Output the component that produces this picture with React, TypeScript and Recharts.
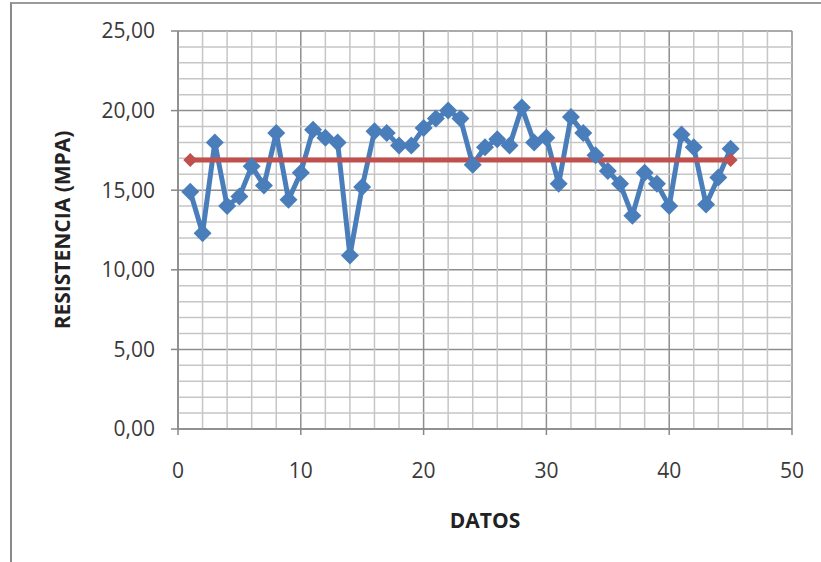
import React from "react";
import {
  LineChart, Line, XAxis, YAxis, CartesianGrid, ReferenceLine,
} from "recharts";

// valores (x = 1..45)
const datos = [
  1, 2, 3, 4, 5, 6, 7, 8, 9, 10, 11, 12, 13, 14, 15, 16, 17, 18, 19, 20, 21, 22, 23,
  24, 25, 26, 27, 28, 29, 30, 31, 32, 33, 34, 35, 36, 37, 38, 39, 40, 41, 42, 43, 44, 45,
];
const resistencia = [
  14.9, 12.3, 18.0, 14.0, 14.6, 16.5, 15.3, 18.6, 14.4, 16.1, 18.8, 18.3, 18.0, 10.9, 15.2,
  18.7, 18.6, 17.8, 17.8, 18.9, 19.5, 20.0, 19.5, 16.6, 17.7, 18.2, 17.8, 20.2, 18.0, 18.3,
  15.4, 19.6, 18.6, 17.2, 16.2, 15.4, 13.4, 16.1, 15.4, 14.0, 18.5, 17.7, 14.1, 15.8, 17.6,
];
const promedioX = [1, 45];
const promedio = 16.9;

const xTicks = [0, 10, 20, 30, 40, 50];
const yTicks = [0, 5, 10, 15, 20, 25];
const xMinor = [2, 4, 6, 8, 12, 14, 16, 18, 22, 24, 26, 28, 32, 34, 36, 38, 42, 44, 46, 48];
const yMinor = [1, 2, 3, 4, 6, 7, 8, 9, 11, 12, 13, 14, 16, 17, 18, 19, 21, 22, 23, 24];

const serie = datos.map((x, i) => ({ x, y: resistencia[i] }));
const media = promedioX.map((x) => ({ x, y: promedio }));

const FONT = "'Open Sans', 'Liberation Sans', sans-serif";

const Diamond = (color: string, r: number) => (props: any) => {
  const { cx, cy, index } = props;
  if (cx == null || cy == null) return <g key={index} />;
  return (
    <path
      key={index}
      d={`M${cx},${cy - r} L${cx + r},${cy} L${cx},${cy + r} L${cx - r},${cy} Z`}
      fill={color}
      stroke="none"
    />
  );
};

const fmt = (v: number) => v.toFixed(2).replace(".", ",");

export default function App() {
  return (
    <div style={{ position: "absolute", left: 0, top: 0, width: 821, height: 562, background: "#fff", overflow: "hidden" }}>
      <div
        style={{
          position: "absolute", left: 10, top: 2, width: 830, height: 558,
          borderTop: "2px solid #9a9a9a", borderLeft: "2px solid #8a8a8a", borderBottom: "1px solid #e6e6e6",
        }}
      />
      <LineChart
        width={821}
        height={562}
        margin={{ top: 31, right: 29, bottom: 0, left: 0 }}
        style={{ position: "absolute", left: 0, top: 0, fontFamily: FONT }}
      >
        {xMinor.map((v) => (
          <ReferenceLine key={`vx${v}`} x={v} stroke="#c6c6c6" strokeWidth={1.5} />
        ))}
        {yMinor.map((v) => (
          <ReferenceLine key={`hy${v}`} y={v} stroke="#c6c6c6" strokeWidth={1.5} />
        ))}
        <CartesianGrid stroke="#8e8e8e" strokeWidth={1.5} />
        <XAxis
          dataKey="x"
          type="number"
          domain={[0, 50]}
          ticks={xTicks}
          height={133}
          axisLine={{ stroke: "#888", strokeWidth: 1.5 }}
          tickLine={{ stroke: "#888", strokeWidth: 1.5 }}
          tickSize={6}
          tickMargin={28}
          tick={{ fill: "#3a3a3a", fontSize: 21, fontFamily: FONT }}
          label={{
            content: (p: any) => {
              const vb = p.viewBox;
              return (
                <text x={vb.x + vb.width / 2} y={vb.y + 99} textAnchor="middle" fill="#222"
                  fontSize={21} fontWeight="bold" fontFamily={FONT}>
                  DATOS
                </text>
              );
            },
          }}
        />
        <YAxis
          type="number"
          domain={[0, 25]}
          ticks={yTicks}
          width={178}
          axisLine={{ stroke: "#888", strokeWidth: 1.5 }}
          tickLine={{ stroke: "#888", strokeWidth: 1.5 }}
          tickSize={7}
          tickMargin={16}
          tickFormatter={fmt}
          tick={{ fill: "#3a3a3a", fontSize: 21, fontFamily: FONT }}
          label={{
            content: (p: any) => {
              const vb = p.viewBox;
              const cx = vb.x + 62;
              const cy = vb.y + vb.height / 2;
              return (
                <text x={cx} y={cy} transform={`rotate(-90 ${cx} ${cy})`} textAnchor="middle"
                  dominantBaseline="central" fill="#222" fontSize={21} fontWeight="bold" fontFamily={FONT}>
                  RESISTENCIA (MPA)
                </text>
              );
            },
          }}
        />
        <Line
          data={serie}
          dataKey="y"
          stroke="#4a7ebb"
          strokeWidth={5}
          strokeLinejoin="round"
          dot={Diamond("#4a7ebb", 9)}
          activeDot={false}
          isAnimationActive={false}
        />
        <Line
          data={media}
          dataKey="y"
          stroke="#c0504d"
          strokeWidth={5}
          dot={Diamond("#c0504d", 7)}
          activeDot={false}
          isAnimationActive={false}
        />
      </LineChart>
    </div>
  );
}
